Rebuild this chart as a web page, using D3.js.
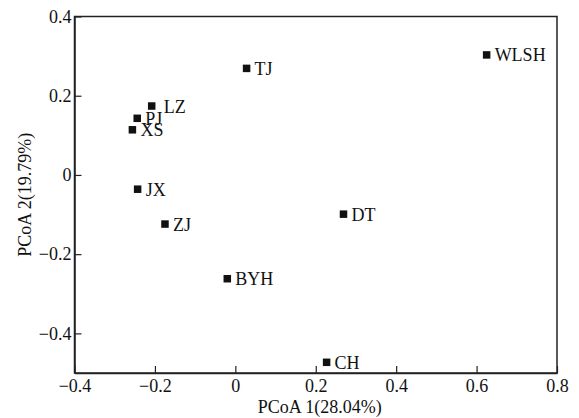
<!DOCTYPE html>
<html>
<head>
<meta charset="utf-8">
<script src="https://cdn.jsdelivr.net/npm/d3@7"></script>
<style>
  body { margin: 0; background: #fff; }
  text { font-family: "Liberation Serif", "Times New Roman", serif; fill: #111; }
</style>
</head>
<body>
<script>
    // Sites and their PCoA coordinates
    var sites = ["LZ", "PJ", "XS", "JX", "ZJ", "TJ", "WLSH", "DT", "BYH", "CH"];
    var pc1 = [-0.208, -0.244, -0.256, -0.243, -0.175, 0.028, 0.625, 0.269, -0.020, 0.227];
    var pc2 = [0.174, 0.143, 0.114, -0.036, -0.124, 0.269, 0.303, -0.099, -0.262, -0.473];

    // Axis ticks
    var xTicks = [-0.4, -0.2, 0, 0.2, 0.4, 0.6, 0.8];
    var yTicks = [-0.4, -0.2, 0, 0.2, 0.4];

    var xTitle = "PCoA 1(28.04%)";
    var yTitle = "PCoA 2(19.79%)";

    function init() {
        var w = 579;
        var h = 418;
        var margin = {top: 16.5, right: 22, bottom: 45, left: 74.5};
        var iw = w - margin.left - margin.right;
        var ih = h - margin.top - margin.bottom;

        var data = sites.map(function(s, i) {
            return {name: s, x: pc1[i], y: pc2[i]};
        });

        var xScale = d3.scaleLinear().domain([-0.4, 0.8]).range([0, iw]);
        var yScale = d3.scaleLinear().domain([-0.5, 0.4]).range([ih, 0]);

        var fmt = function(d) { return d === 0 ? "0" : d3.format(".1f")(d); };

        var svg = d3.select("body")
                    .append("svg")
                    .attr("width", w)
                    .attr("height", h);

        var g = svg.append("g")
                   .attr("transform", "translate(" + margin.left + "," + margin.top + ")");

        // frame
        g.append("rect")
         .attr("width", iw)
         .attr("height", ih)
         .attr("fill", "none")
         .attr("stroke", "#222")
         .attr("stroke-width", 1.5);

        // x axis, ticks pointing inward
        var xAxis = g.append("g")
                     .attr("transform", "translate(0," + ih + ")")
                     .call(d3.axisBottom(xScale).tickValues(xTicks).tickFormat(fmt)
                           .tickSizeInner(-7).tickSizeOuter(0).tickPadding(4));

        // y axis
        var yAxis = g.append("g")
                     .call(d3.axisLeft(yScale).tickValues(yTicks).tickFormat(fmt)
                           .tickSizeInner(-7).tickSizeOuter(0).tickPadding(3));

        [xAxis, yAxis].forEach(function(a) {
            a.select(".domain").attr("stroke", "#222").attr("stroke-width", 1.5);
            a.selectAll(".tick line").attr("stroke", "#222").attr("stroke-width", 1.2);
            a.selectAll(".tick text")
             .attr("fill", "#111")
             .style("font-family", "'Liberation Serif', serif")
             .style("font-size", "18px");
        });
        xAxis.selectAll(".tick text").attr("dy", "0.82em");

        // axis titles
        g.append("text")
         .attr("x", iw / 2 + 4)
         .attr("y", ih + 40)
         .attr("text-anchor", "middle")
         .style("font-size", "18px")
         .text(xTitle);

        g.append("text")
         .attr("transform", "translate(" + (31 - margin.left) + "," + (ih / 2) + ") rotate(-90)")
         .attr("text-anchor", "middle")
         .style("font-size", "18px")
         .text(yTitle);

        // points
        var pts = g.selectAll("g.pt")
                   .data(data)
                   .enter()
                   .append("g")
                   .attr("class", "pt")
                   .attr("transform", function(d) {
                       return "translate(" + xScale(d.x) + "," + yScale(d.y) + ")";
                   });

        pts.append("rect")
           .attr("x", -3.75)
           .attr("y", -3.75)
           .attr("width", 7.5)
           .attr("height", 7.5)
           .attr("fill", "#111");

        pts.append("text")
           .attr("x", function(d) { return d.name === "LZ" ? 12 : 8; })
           .attr("dy", "0.36em")
           .style("font-size", "18px")
           .text(function(d) { return d.name; });
    }

    window.onload = init;
</script>
</body>
</html>
